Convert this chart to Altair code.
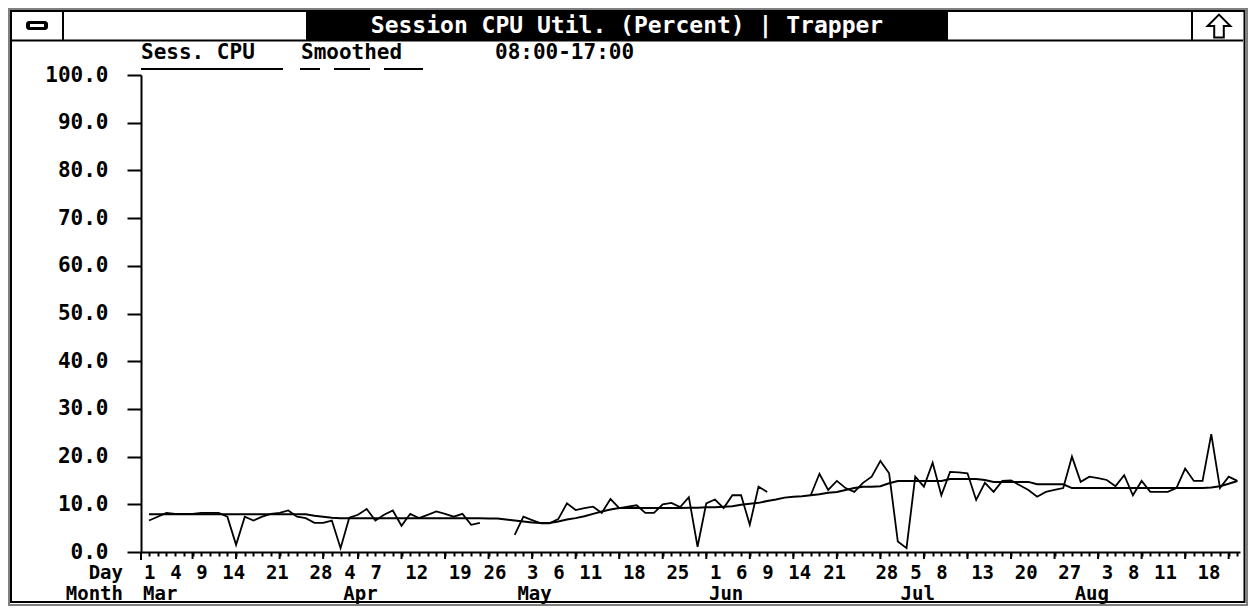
import altair as alt
import pandas as pd

# ---------------- data ----------------
# one point per working day, index 0 = 1 Mar
raw_cpu = [6.6, 7.4, 8.2, 8.0, 8.0, 8.0, 8.2, 8.2, 8.2, 7.4,
           1.5, 7.4, 6.6, 7.4, 8.0, 8.2, 8.7, 7.4, 7.1, 6.1,
           6.1, 6.6, 0.8, 7.2, 7.8, 9.0, 6.6, 7.8, 8.7, 5.5,
           8.0, 7.1, 7.8, 8.5, 8.0, 7.4, 8.0, 5.7, 6.1, None,
           None, None, 3.6, 7.4, 6.7, 6.0, 6.0, 6.9, 10.2, 8.8,
           9.2, 9.5, 8.2, 11.1, 9.2, 9.5, 9.8, 8.2, 8.2, 10.0,
           10.3, 9.4, 11.5, 1.1, 10.2, 11.0, 9.2, 11.9, 11.9, 5.7,
           13.7, 12.6, None, None, None, None, 11.9, 16.4, 13.0, 14.9,
           13.4, 12.6, 14.5, 15.8, 19.1, 16.5, 2.2, 0.8, 15.8, 13.7,
           18.7, 11.9, 16.8, 16.7, 16.5, 10.9, 14.5, 12.6, 14.9, 15.0,
           14.0, 13.0, 11.6, 12.6, 13.0, 13.4, 20.0, 14.7, 15.8, 15.5,
           15.1, 13.8, 16.1, 11.9, 14.9, 12.6, 12.6, 12.6, 13.4, 17.5,
           14.9, 14.9, 24.7, 13.4, 15.8, 14.9]

smoothed = [7.9, 7.9, 7.9, 7.9, 7.9, 7.9, 7.9, 7.9, 7.9, 7.9,
            7.9, 7.9, 7.9, 7.9, 7.9, 7.9, 7.9, 7.9, 7.9, 7.6,
            7.4, 7.2, 7.1, 7.1, 7.1, 7.1, 7.1, 7.1, 7.1, 7.1,
            7.1, 7.1, 7.1, 7.1, 7.1, 7.1, 7.1, 7.1, 7.1, 7.0,
            7.0, 6.8, 6.6, 6.4, 6.2, 6.1, 6.1, 6.4, 6.8, 7.1,
            7.5, 8.0, 8.5, 8.9, 9.2, 9.2, 9.2, 9.2, 9.2, 9.2,
            9.2, 9.2, 9.3, 9.3, 9.4, 9.4, 9.5, 9.6, 9.9, 10.1,
            10.3, 10.7, 11.0, 11.4, 11.6, 11.7, 11.9, 12.1, 12.4, 12.6,
            13.0, 13.4, 13.7, 13.7, 13.8, 14.4, 14.9, 14.9, 14.9, 14.9,
            14.9, 14.9, 15.3, 15.3, 15.3, 15.3, 15.1, 14.7, 14.7, 14.7,
            14.7, 14.7, 14.2, 14.2, 14.2, 14.2, 13.4, 13.4, 13.4, 13.4,
            13.4, 13.4, 13.4, 13.4, 13.4, 13.4, 13.4, 13.4, 13.4, 13.4,
            13.4, 13.4, 13.5, 13.8, 14.3, 14.9]

day_labels = ["1", "4", "9", "14", "21", "28",
              "4", "7", "12", "19", "26",
              "3", "6", "11", "18", "25",
              "1", "6", "9", "14", "21", "28",
              "5", "8", "13", "20", "27",
              "3", "8", "11", "18"]
day_label_pos = [0, 3, 6, 9, 14, 19,
                 23, 26, 30, 35, 39,
                 44, 47, 50, 55, 60,
                 65, 68, 71, 74, 78, 84,
                 88, 91, 95, 100, 105,
                 110, 113, 116, 121]

month_labels = ["Mar", "Apr", "May", "Jun", "Jul", "Aug"]
month_label_pos = [0, 23, 43, 65, 87, 107]

week_ticks = [5, 10, 15, 20, 24, 29, 34, 39, 44, 49, 54, 59, 64, 69, 74,
              79, 84, 89, 94, 99, 104, 109, 114, 119, 124]

y_ticks = [0, 10, 20, 30, 40, 50, 60, 70, 80, 90, 100]

# ---------------- tables ----------------
n = len(raw_cpu)
idx = list(range(n))
seg, s = [], 0
for v in raw_cpu:
    if v is None:
        s += 1
    seg.append(s)
raw_df = pd.DataFrame({"i": idx, "v": raw_cpu, "seg": seg}).dropna()
smooth_df = pd.DataFrame({"i": idx, "v": smoothed})
days_df = pd.DataFrame({"i": day_label_pos, "t": day_labels})
months_df = pd.DataFrame({"i": month_label_pos, "t": month_labels})
weeks_df = pd.DataFrame({"i": week_ticks})

FONT = "DejaVu Sans Mono"
FS = 21
FSB = 19
W, H = 1099, 477
OX, OY = 141, 75  # page position of plot origin

xscale = alt.Scale(domain=[-0.92, 125.3], nice=False, zero=False)
yscale = alt.Scale(domain=[0, 100], nice=False, zero=True)

X_AXIS = alt.Axis(values=idx, labels=False, tickSize=4, tickWidth=2,
                  domainWidth=2, title=None, grid=False, zindex=1)
Y_AXIS = alt.Axis(values=y_ticks, format=".1f", tickSize=14, tickWidth=2,
                  domainWidth=2, labelPadding=19, title=None, grid=False, zindex=1)

one = alt.Data(values=[{"k": 1}])


def box(x1, y1, x2, y2, color, r=0):
    return alt.Chart(one).mark_rect(color=color, cornerRadius=r).encode(
        x=alt.value(x1 - OX), x2=alt.value(x2 - OX),
        y=alt.value(y1 - OY), y2=alt.value(y2 - OY))


def frame(x1, y1, x2, y2, color, w):
    return alt.Chart(one).mark_rect(
        fillOpacity=0, stroke=color, strokeWidth=w
    ).encode(
        x=alt.value(x1 - OX), x2=alt.value(x2 - OX),
        y=alt.value(y1 - OY), y2=alt.value(y2 - OY))


def label(txt, x, y, align="left", color="black", size=FS):
    return alt.Chart(one).mark_text(
        text=txt, align=align, baseline="alphabetic", font=FONT,
        fontSize=size, fontWeight="bold", color=color
    ).encode(x=alt.value(x - OX), y=alt.value(y - OY))


def hline(x1, x2, y, w=2):
    return alt.Chart(one).mark_rule(color="black", strokeWidth=w).encode(
        x=alt.value(x1 - OX), x2=alt.value(x2 - OX), y=alt.value(y - OY))


chrome = [
    frame(9, 9, 1247, 605, "#808080", 2),
    frame(11, 11, 1244.5, 602, "black", 2),
    box(12, 39.5, 1243, 41.5, "black"),
    box(62, 12, 64, 40, "black"),
    box(306, 12, 948, 40, "black"),
    box(1191, 12, 1193, 40, "black"),
    box(26, 21, 48, 30, "black", 3),
    box(30, 24, 44, 27, "white"),
    alt.Chart(one).mark_point(
        shape="M0,-1 L1,0 L0.42,0 L0.42,1 L-0.42,1 L-0.42,0 L-1,0 Z",
        size=520, filled=False, stroke="black", strokeWidth=2, opacity=1
    ).encode(x=alt.value(1219 - OX), y=alt.value(26 - OY)),
    label("Session CPU Util. (Percent) | Trapper", 627, 33, "center", "white", 23),
    label("Sess. CPU", 141, 58.5),
    label("Smoothed", 301, 58.5),
    label("08:00-17:00", 495, 58.5),
    hline(141, 283, 69),
    hline(300, 320, 69),
    hline(334, 370, 69),
    hline(384, 423, 69),
    label("Day", 123, 579, "right", size=FSB),
    label("Month", 123, 600, "right", size=FSB),
    alt.Chart(one).mark_rule(color="black", strokeWidth=2).encode(
        x=alt.value(0), y=alt.value(H), y2=alt.value(H + 8)),
]

raw_line = alt.Chart(raw_df).mark_line(color="black", strokeWidth=1.8).encode(
    x=alt.X("i:Q", scale=xscale, axis=X_AXIS),
    y=alt.Y("v:Q", scale=yscale, axis=Y_AXIS),
    detail="seg:N",
)

smooth_line = alt.Chart(smooth_df).mark_line(color="black", strokeWidth=2).encode(
    x=alt.X("i:Q", scale=xscale, axis=X_AXIS),
    y=alt.Y("v:Q", scale=yscale, axis=Y_AXIS),
)

week_rules = alt.Chart(weeks_df).mark_rule(color="black", strokeWidth=2).encode(
    x=alt.X("i:Q", scale=xscale, axis=X_AXIS),
    y=alt.value(H), y2=alt.value(H + 7),
)

day_text = alt.Chart(days_df).mark_text(
    align="left", baseline="alphabetic", dx=-5, font=FONT, fontSize=FSB,
    fontWeight="bold", color="black"
).encode(x=alt.X("i:Q", scale=xscale, axis=X_AXIS), y=alt.value(579 - OY), text="t:N")

month_text = alt.Chart(months_df).mark_text(
    align="left", baseline="alphabetic", dx=-6, font=FONT, fontSize=FSB,
    fontWeight="bold", color="black"
).encode(x=alt.X("i:Q", scale=xscale, axis=X_AXIS), y=alt.value(600 - OY), text="t:N")

chart = alt.layer(
    *chrome, raw_line, smooth_line, week_rules, day_text, month_text
).properties(
    width=W, height=H,
    padding={"left": 133, "top": 67, "right": 8, "bottom": 54},
    autosize=alt.AutoSizeParams(type="none"),
    background="white",
).configure_view(
    stroke=None
).configure_axis(
    labelFont=FONT, labelFontSize=FS, labelFontWeight="bold", labelColor="black",
    domainColor="black", tickColor="black",
)

chart.save("out.html", embed_options={"renderer": "svg", "actions": False})
